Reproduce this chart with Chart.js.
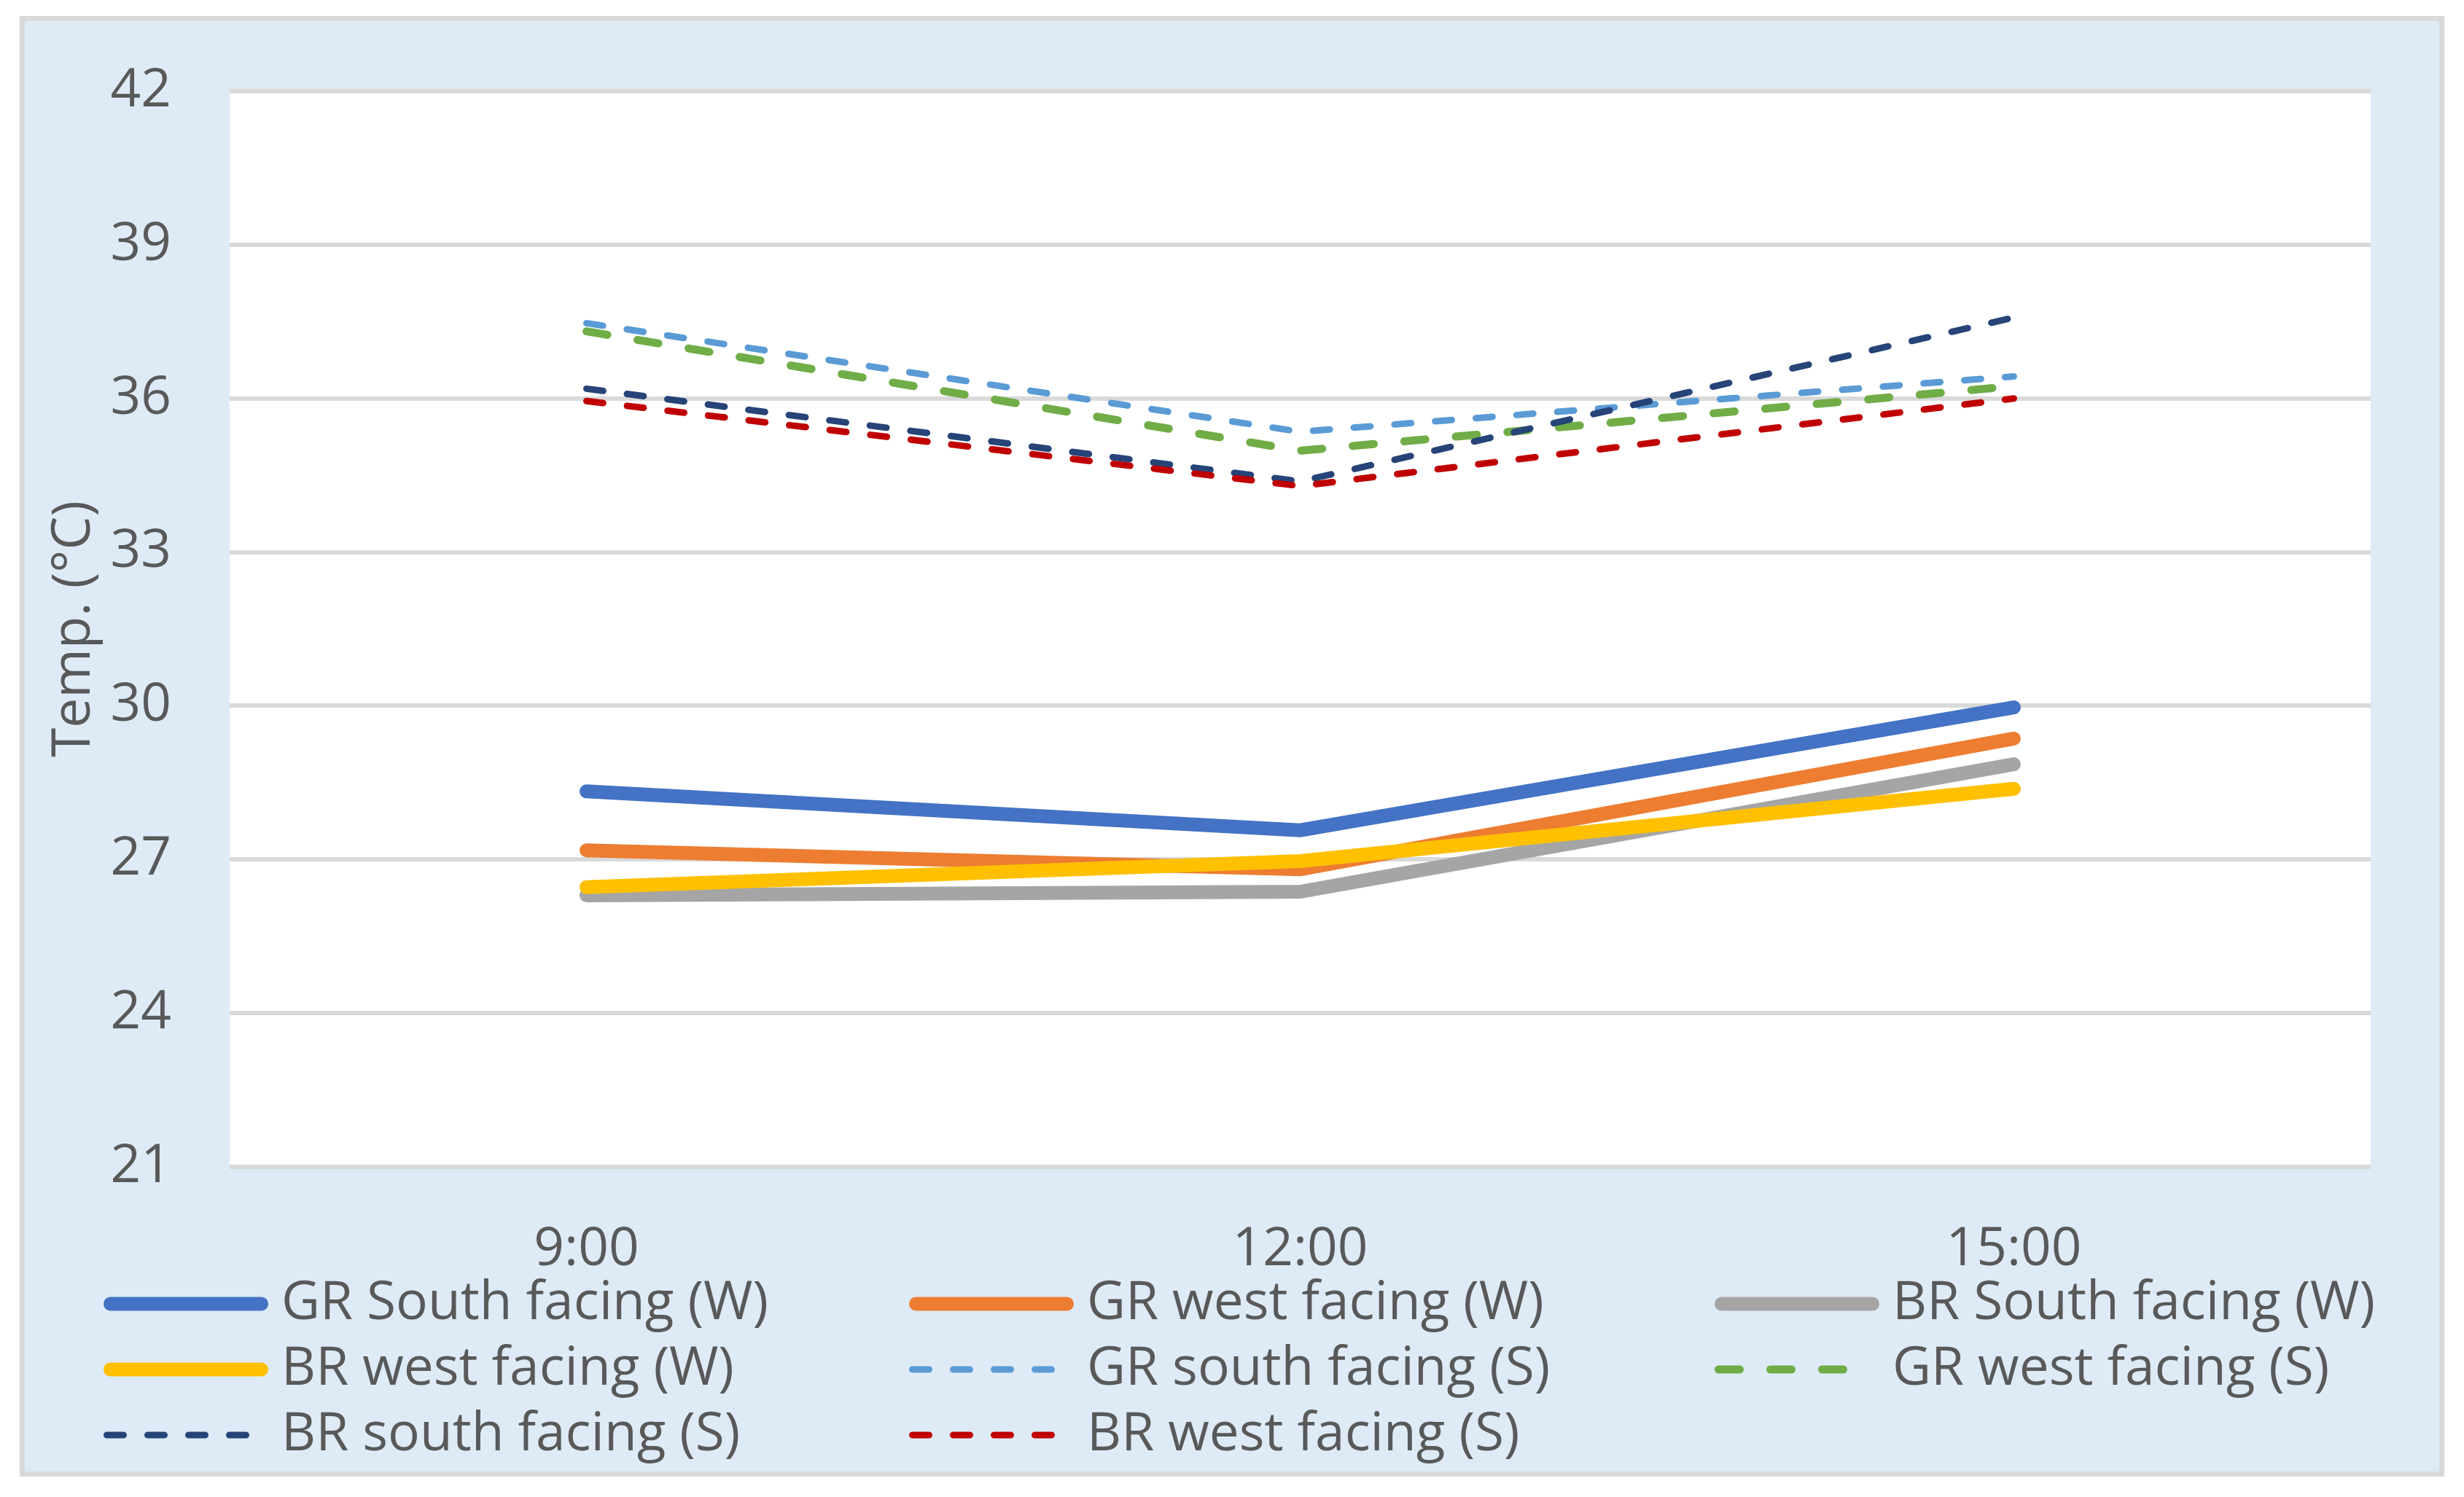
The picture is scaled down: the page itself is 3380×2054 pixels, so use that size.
<!DOCTYPE html>
<html>
<head>
<meta charset="utf-8">
<script src="https://cdn.jsdelivr.net/npm/chart.js@4.4.0/dist/chart.umd.min.js"></script>
<style>
html, body { margin: 0; padding: 0; background: #fff; }
canvas { display: block; }
</style>
</head>
<body>
<canvas id="chart" width="3380" height="2054"></canvas>
<script>
// categories + axis ticks
const times = ['9:00', '12:00', '15:00']
const yTicks = [21, 24, 27, 30, 33, 36, 39, 42]

// temperatures (°C)
const grSouthW = [28.33, 27.57, 29.97]
const grWestW  = [27.18, 26.81, 29.36]
const brSouthW = [26.30, 26.37, 28.86]
const brWestW  = [26.46, 26.97, 28.38]
const grSouthS = [37.47, 35.35, 36.43]
const grWestS  = [37.31, 34.98, 36.24]
const brSouthS = [36.19, 34.38, 37.58]
const brWestS  = [35.95, 34.29, 36.00]

const txtColor = '#595959'
const fontFam = '"Open Sans", sans-serif'
const fontSize = 73

// solid (W) and dashed (S) line helpers
function solid(label, data, color) {
    return { label: label, data: data, borderColor: color, backgroundColor: color,
        borderWidth: 19, borderCapStyle: 'round', borderJoinStyle: 'miter', pointRadius: 0, fill: false }
}
function dashed(label, data, color, w, dash, gap) {
    return { label: label, data: data, borderColor: color, backgroundColor: color,
        borderWidth: w, borderDash: [dash - w, gap + w], borderCapStyle: 'round',
        borderJoinStyle: 'miter', pointRadius: 0, fill: false }
}

const datasets = [
    solid('GR South facing (W)', grSouthW, '#4472C4'),
    solid('GR west facing (W)', grWestW, '#ED7D31'),
    solid('BR South facing (W)', brSouthW, '#A5A5A5'),
    solid('BR west facing (W)', brWestW, '#FFC000'),
    dashed('GR south facing (S)', grSouthS, '#5B9BD5', 9, 32, 24),
    dashed('GR west facing (S)', grWestS, '#70AD47', 11, 40, 31),
    dashed('BR south facing (S)', brSouthS, '#264478', 9, 32, 24),
    dashed('BR west facing (S)', brWestS, '#C00000', 9, 32, 24)
]
// later series drawn on top, like the original
datasets.forEach((d, i) => { d.order = datasets.length - i })

// frame + white plot area
const framePlugin = {
    id: 'frame',
    beforeDraw(chart) {
        const ctx = chart.ctx
        const a = chart.chartArea
        ctx.save()
        ctx.fillStyle = '#fff'
        ctx.fillRect(0, 0, chart.width, chart.height)
        ctx.fillStyle = '#DEEBF7'
        ctx.fillRect(27, 22, 3326, 2004)
        ctx.strokeStyle = '#D9D9D9'
        ctx.lineWidth = 7
        ctx.strokeRect(30.5, 25.5, 3319, 1997)
        ctx.fillStyle = '#fff'
        ctx.fillRect(a.left, a.top, a.right - a.left, a.bottom - a.top)
        ctx.restore()
    }
}

// 3-column legend grid
const legendPlugin = {
    id: 'gridLegend',
    afterDraw(chart) {
        const ctx = chart.ctx
        chart.data.datasets.forEach((ds, i) => {
            const col = i % 3, row = Math.floor(i / 3)
            const x = 142 + col * 1105
            const y = 1789 + row * 90
            const w = ds.borderWidth
            let len = 226
            if (ds.borderDash) {
                // stop on a whole dash
                const on = ds.borderDash[0] + w, off = ds.borderDash[1] - w
                const n = Math.floor((len + off) / (on + off))
                len = n * (on + off) - off
            }
            ctx.save()
            ctx.strokeStyle = ds.borderColor
            ctx.lineWidth = w
            ctx.lineCap = 'round'
            ctx.setLineDash(ds.borderDash || [])
            ctx.beginPath()
            ctx.moveTo(x + w / 2, y)
            ctx.lineTo(x + len - w / 2, y)
            ctx.stroke()
            ctx.setLineDash([])
            ctx.fillStyle = txtColor
            ctx.font = fontSize + 'px ' + fontFam
            ctx.textAlign = 'left'
            ctx.textBaseline = 'middle'
            ctx.fillText(ds.label, x + 244, y)
            ctx.restore()
        })
    }
}

const config = {
    type: 'line',
    data: { labels: times, datasets: datasets },
    plugins: [framePlugin, legendPlugin],
    options: {
        responsive: false,
        animation: false,
        layout: { padding: { left: 40, right: 128, top: 125, bottom: 293 } },
        plugins: { legend: { display: false }, tooltip: { enabled: false } },
        scales: {
            x: {
                offset: true,
                grid: { display: false },
                border: { display: false },
                ticks: { color: txtColor, font: { family: fontFam, size: fontSize }, padding: 62 },
                afterFit: s => { s.height = 160 }
            },
            y: {
                min: 21, max: 42,
                grid: { color: '#D9D9D9', lineWidth: 6, drawTicks: false },
                border: { display: false },
                afterBuildTicks: s => { s.ticks = yTicks.map(v => ({ value: v })) },
                ticks: { color: txtColor, font: { family: fontFam, size: fontSize }, padding: 80 },
                title: { display: true, text: 'Temp. (°C)', color: txtColor,
                    font: { family: fontFam, size: fontSize }, padding: { top: 18, bottom: 0 } },
                afterFit: s => { s.width = 275 }
            }
        }
    }
}

window.onload = function() {
    var ctx = document.getElementById('chart').getContext('2d')
    window.myChart = new Chart(ctx, config)
}
</script>
</body>
</html>
